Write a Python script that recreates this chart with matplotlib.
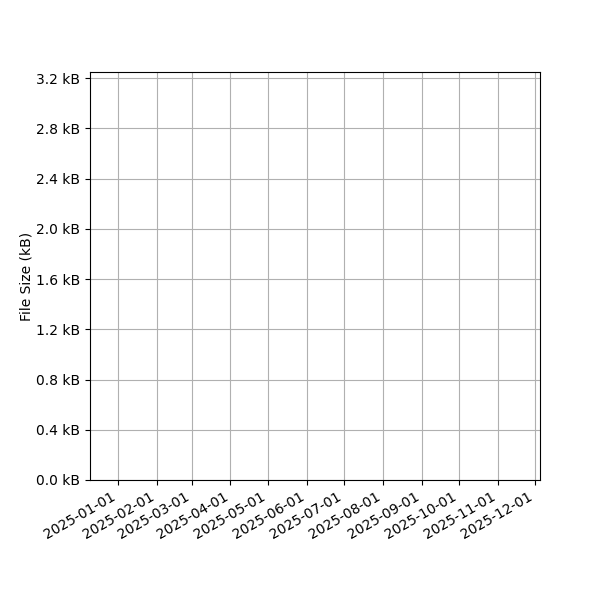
import matplotlib
matplotlib.use("Agg")
import matplotlib.pyplot as plt
import matplotlib.dates as mdates
import matplotlib.ticker as mticker
import numpy as np

# empty chart: no data points, only the axis ranges
x_range = [np.datetime64("2024-12-09T14:00"), np.datetime64("2025-12-04T20:00")]
y_range = [0.0, 3.25]
y_ticks = [0.0, 0.4, 0.8, 1.2, 1.6, 2.0, 2.4, 2.8, 3.2]

fig, ax = plt.subplots(figsize=(6, 6), dpi=100)
fig.subplots_adjust(left=0.15, right=0.9, top=0.88)

ax.set_xlim(mdates.date2num(x_range[0]), mdates.date2num(x_range[1]))
ax.set_ylim(*y_range)
ax.xaxis.set_major_locator(mdates.MonthLocator())
ax.xaxis.set_major_formatter(mdates.DateFormatter("%Y-%m-%d"))
ax.set_yticks(y_ticks)
ax.yaxis.set_major_formatter(mticker.FuncFormatter(lambda v, p: f"{v:.1f} kB"))
ax.set_ylabel("File Size (kB)", labelpad=2)
ax.grid(True)
fig.autofmt_xdate()

fig.savefig("out.png")
